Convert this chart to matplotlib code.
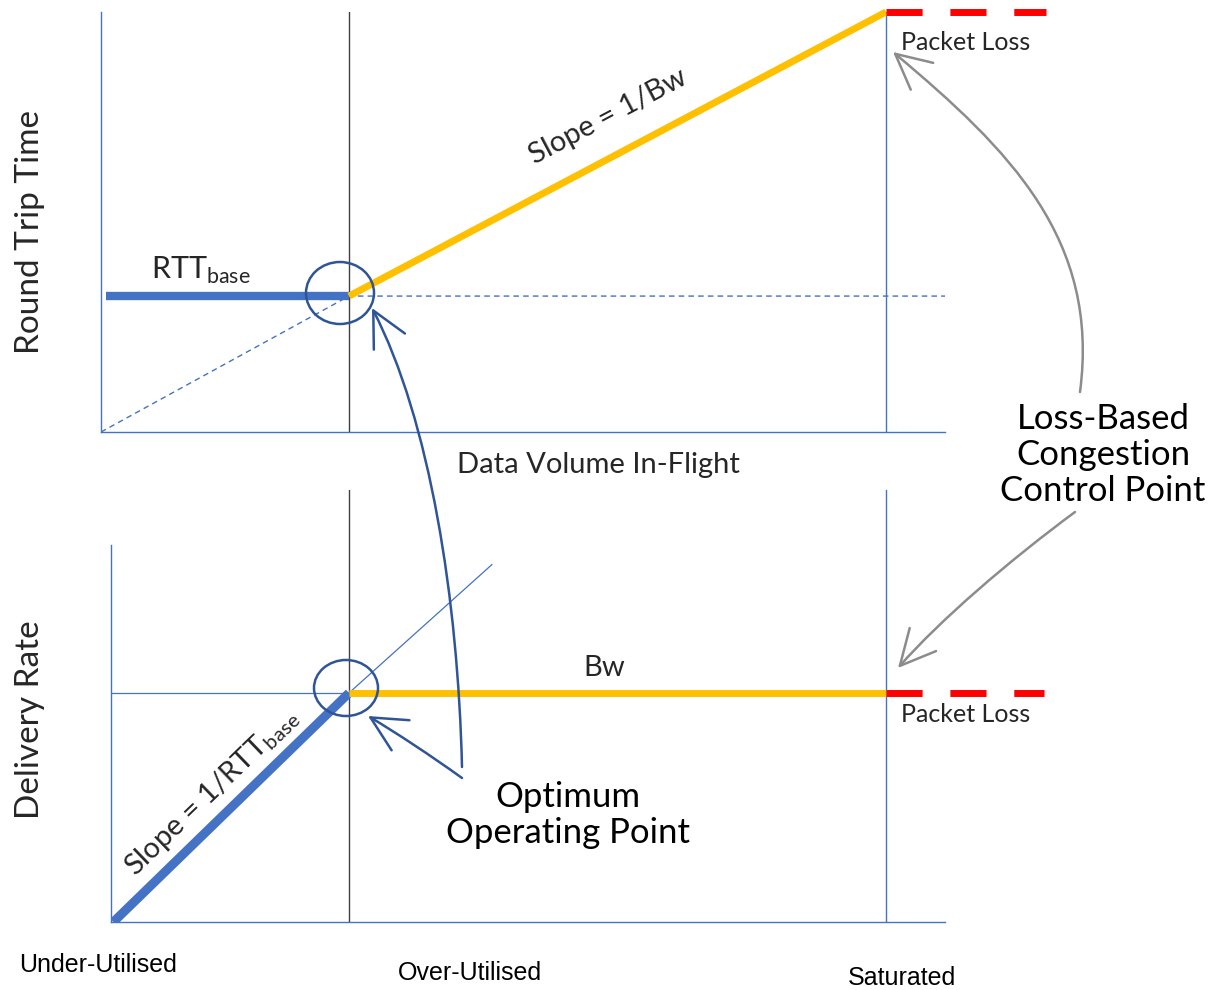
import matplotlib.pyplot as plt
from matplotlib.patches import Ellipse, FancyArrowPatch
from matplotlib.path import Path

plt.rcParams['font.family'] = ['Lato', 'DejaVu Sans']
plt.rcParams['mathtext.fontset'] = 'custom'
plt.rcParams['mathtext.rm'] = 'Lato'

# ---- data (x in units of BDP, RTT in units of RTT_base, rate in units of Bw) ----
rtt_base_x = [0.02, 1.0]
rtt_base_y = [1.0, 1.0]
rtt_queue_x = [1.0, 3.165]
rtt_queue_y = [1.0, 3.09]
rtt_loss_x = [3.165, 3.81]
rtt_loss_y = [3.09, 3.09]
rtt_ref_x = [0.0, 1.0, 3.403]      # dashed guide lines
rtt_ref_y = [0.0, 1.0, 1.0]

rate_ramp_x = [0.01, 1.0]
rate_ramp_y = [0.0, 1.0]
rate_bw_x = [1.0, 3.256]
rate_bw_y = [1.0, 1.0]
rate_loss_x = [3.256, 3.92]
rate_loss_y = [1.0, 1.0]
rate_ext_x = [1.0, 1.6]
rate_ext_y = [1.0, 1.56]

zone_labels = ['Under-Utilised', 'Over-Utilised', 'Saturated']

BLUE = '#4472C4'
YELLOW = '#FFC000'
RED = '#FF0000'
INK = '#2F5597'
GREY = '#8C8C8C'
TXT = '#262626'

W, H = 1209, 990
fig = plt.figure(figsize=(W / 100, H / 100), dpi=100)


def box(l, t, r, b):
    return [l / W, 1 - b / H, (r - l) / W, (b - t) / H]


def style_axes(ax):
    for s in ['top', 'right']:
        ax.spines[s].set_visible(False)
    for s in ['left', 'bottom']:
        ax.spines[s].set_color(BLUE)
        ax.spines[s].set_linewidth(1)
    ax.set_xticks([])
    ax.set_yticks([])
    ax.patch.set_alpha(0)


# ---- top panel: round trip time ----
ax1 = fig.add_axes(box(101, 12, 945, 432))
style_axes(ax1)
ax1.set_xlim(0, 3.403)
ax1.set_ylim(0, 3.09)
ax1.axvline(rtt_base_x[1], color='#404040', lw=1)
ax1.axvline(rtt_queue_x[1], color=BLUE, lw=1)
ax1.plot(rtt_ref_x, rtt_ref_y, color=BLUE, lw=1, ls=(0, (4, 3)))
ax1.plot(rtt_base_x, rtt_base_y, color=BLUE, lw=6, solid_capstyle='butt')
ax1.plot(rtt_queue_x, rtt_queue_y, color=YELLOW, lw=5, solid_capstyle='butt', clip_on=False)
ax1.plot(rtt_loss_x, rtt_loss_y, color=RED, lw=5, ls=(0, (5.2, 4)),
         dash_capstyle='butt', clip_on=False)

# ---- bottom panel: delivery rate ----
ax2 = fig.add_axes(box(111, 490, 945, 922))
style_axes(ax2)
ax2.set_xlim(0, 3.504)
ax2.set_ylim(0, 1.886)
ax2.spines['left'].set_bounds(0, 1.646)
ax2.axvline(rate_bw_x[0], color='#404040', lw=1)
ax2.axvline(rate_bw_x[1], color=BLUE, lw=1)
ax2.plot([0, rate_ramp_x[1]], [rate_ramp_y[1], rate_ramp_y[1]], color=BLUE, lw=0.9)
ax2.plot(rate_ext_x, rate_ext_y, color=BLUE, lw=0.9)
ax2.plot(rate_ramp_x, rate_ramp_y, color=BLUE, lw=6.5, solid_capstyle='butt')
ax2.plot(rate_bw_x, rate_bw_y, color=YELLOW, lw=5, solid_capstyle='butt')
ax2.plot(rate_loss_x, rate_loss_y, color=RED, lw=5, ls=(0, (5.2, 4)),
         dash_capstyle='butt', clip_on=False)

# ---- overlay in pixel coordinates for labels and hand-drawn notes ----
ov = fig.add_axes([0, 0, 1, 1])
ov.set_xlim(0, W)
ov.set_ylim(H, 0)
ov.axis('off')
ov.patch.set_alpha(0)

ov.text(30, 232, 'Round Trip Time', rotation=90, ha='center', va='center',
        fontsize=24, color=TXT)
ov.text(30, 720, 'Delivery Rate', rotation=90, ha='center', va='center',
        fontsize=24, color=TXT)
ov.text(598, 465, 'Data Volume In-Flight', ha='center', va='center', fontsize=21,
        color=TXT)
ov.text(151, 270, r'RTT$_{\mathrm{base}}$', ha='left', va='center', fontsize=22,
        color=TXT)
ov.text(608, 117, 'Slope = 1/Bw', rotation=27.9, rotation_mode='anchor',
        ha='center', va='center', fontsize=21, color=TXT)
ov.text(604, 668, 'Bw', ha='center', va='center', fontsize=21, color=TXT)
ov.text(212, 792, r'Slope = 1/RTT$_{\mathrm{base}}$', rotation=44,
        rotation_mode='anchor', ha='center', va='center', fontsize=21,
        color=TXT)
for y in [42, 714]:
    ov.text(901, y, 'Packet Loss', ha='left', va='center', fontsize=18,
            color=TXT)

ov.text(98, 965, zone_labels[0], ha='center', va='center', fontsize=18,
        family='Liberation Sans')
ov.text(470, 973, zone_labels[1], ha='center', va='center', fontsize=18,
        family='Liberation Sans')
ov.text(902, 978, zone_labels[2], ha='center', va='center', fontsize=18,
        family='Liberation Sans')

ov.text(1103, 455, 'Loss-Based\nCongestion\nControl Point', ha='center',
        va='center', fontsize=25, linespacing=1.15, color='black')
ov.text(568, 815, 'Optimum\nOperating Point', ha='center', va='center',
        fontsize=25, linespacing=1.15, color='black')

# loops around the operating points
ov.add_patch(Ellipse((340, 293), 68, 62, fill=False, ec=INK, lw=1.8))
ov.add_patch(Ellipse((346, 688), 64, 56, fill=False, ec=INK, lw=1.8))


def curve_arrow(pts, color):
    path = Path(pts, [Path.MOVETO, Path.CURVE4, Path.CURVE4, Path.CURVE4])
    ov.add_patch(FancyArrowPatch(path=path, arrowstyle='->,head_length=0.9,head_width=0.45',
                                 mutation_scale=28, color=color, lw=1.8))


curve_arrow([(1080, 392), (1100, 240), (1010, 150), (893, 52)], GREY)
curve_arrow([(1075, 512), (1010, 560), (940, 620), (898, 668)], GREY)
curve_arrow([(462, 767), (458, 600), (430, 420), (372, 308)], INK)
curve_arrow([(462, 778), (430, 755), (395, 732), (368, 716)], INK)

fig.savefig('out.png', dpi=100)
